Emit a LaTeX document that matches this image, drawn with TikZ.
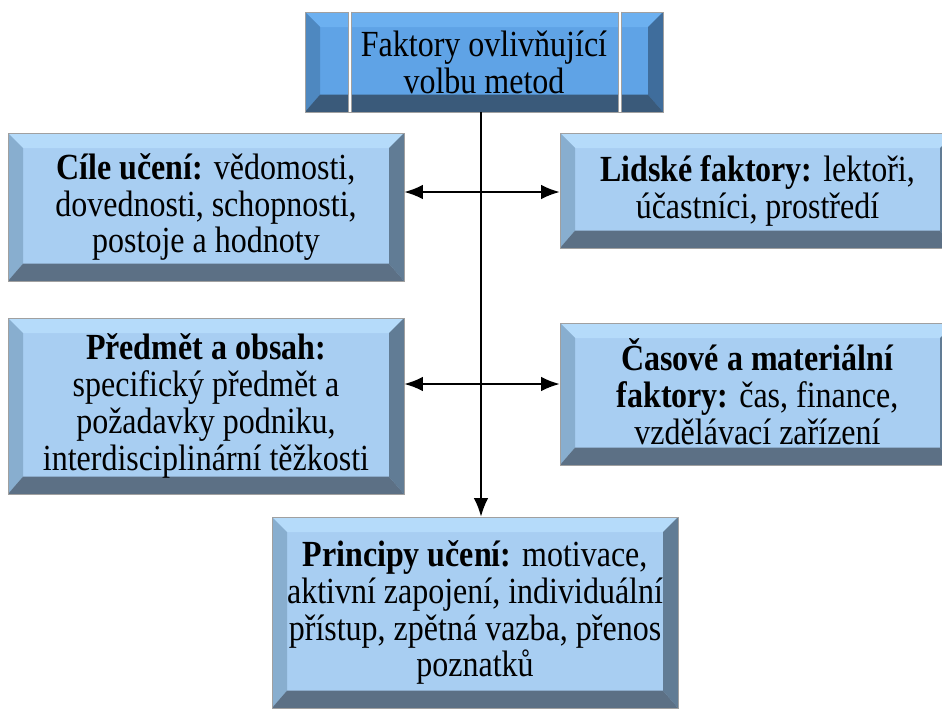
\documentclass[tikz,border=0pt]{standalone}
\usepackage{fontspec}
\setmainfont{Liberation Serif}
\usetikzlibrary{arrows.meta}
\definecolor{lface}{HTML}{A8CEF2}
\definecolor{ltop}{HTML}{B5DBFA}
\definecolor{lleft}{HTML}{88AECF}
\definecolor{lright}{HTML}{617C95}
\definecolor{lbottom}{HTML}{5C7085}
\definecolor{dface}{HTML}{5FA3E6}
\definecolor{dtop}{HTML}{6CB0F0}
\definecolor{dleft}{HTML}{4E88C0}
\definecolor{dright}{HTML}{3F6D9C}
\definecolor{dbottom}{HTML}{3A5A7A}
\definecolor{edgegray}{HTML}{A0A0A0}
\newcommand{\bevelparts}[4]{%
  \fill[#1] (path picture bounding box.north west) -- (path picture bounding box.north east)
     -- ([xshift=-11.25pt,yshift=-11.25pt]path picture bounding box.north east)
     -- ([xshift=11.25pt,yshift=-11.25pt]path picture bounding box.north west) -- cycle;
  \fill[#2] (path picture bounding box.north west) -- (path picture bounding box.south west)
     -- ([xshift=11.25pt,yshift=13pt]path picture bounding box.south west)
     -- ([xshift=11.25pt,yshift=-11.25pt]path picture bounding box.north west) -- cycle;
  \fill[#3] (path picture bounding box.north east) -- (path picture bounding box.south east)
     -- ([xshift=-11.25pt,yshift=13pt]path picture bounding box.south east)
     -- ([xshift=-11.25pt,yshift=-11.25pt]path picture bounding box.north east) -- cycle;
  \fill[#4] (path picture bounding box.south west) -- (path picture bounding box.south east)
     -- ([xshift=-11.25pt,yshift=13pt]path picture bounding box.south east)
     -- ([xshift=11.25pt,yshift=13pt]path picture bounding box.south west) -- cycle;}
% stretched, centred lines of text (lines separated by \cr)
\newcommand{\stxt}[2][0pt]{\raisebox{#1}{\scalebox{1}[1.15]{\vbox{\baselineskip=24.1pt\lineskiplimit=-\maxdimen\halign{\hfil##\hfil\cr#2\crcr}}}}}
\tikzset{
  boxbase/.style={rectangle, inner sep=0pt, align=center, draw=edgegray, line width=0.4pt,
    font=\fontsize{24}{24.1}\selectfont},
  lightbox/.style={boxbase, fill=lface, path picture={\bevelparts{ltop}{lleft}{lright}{lbottom}}},
  darkbox/.style={boxbase, fill=dface, path picture={\bevelparts{dtop}{dleft}{dright}{dbottom}}},
  conn/.style={line width=1.5pt, black},
  tipl/.style={-{Latex[length=14pt,width=11pt]}},
  tiplr/.style={{Latex[length=14pt,width=11pt]}-{Latex[length=14pt,width=11pt]}}
}
\begin{document}
\begin{tikzpicture}[x=0.75pt,y=-0.75pt]
\clip (0,0) rectangle (942,711);
\fill[white] (0,0) rectangle (942,711);

\node[darkbox, minimum width=268.5pt, minimum height=75pt] (top) at (484,62)
  {\stxt{Faktory ovlivňující\cr volbu metod}};
\node[lightbox, minimum width=297pt, minimum height=111pt] (cile) at (206,207)
  {\stxt[3pt]{\textbf{Cíle učení:} vědomosti,\cr dovednosti, schopnosti,\cr postoje a hodnoty}};
\node[lightbox, minimum width=296.25pt, minimum height=86.25pt] (lidske) at (757.5,190.5)
  {\stxt[5.25pt]{\textbf{Lidské faktory:} lektoři,\cr účastníci, prostředí}};
\node[lightbox, minimum width=297pt, minimum height=132pt] (predmet) at (206,406)
  {\stxt{\textbf{Předmět a obsah:}\cr specifický předmět a\cr požadavky podniku,\cr interdisciplinární těžkosti}};
\node[lightbox, minimum width=296.25pt, minimum height=106.5pt] (casove) at (757.5,394)
  {\stxt[3.75pt]{\textbf{Časové a materiální}\cr \textbf{faktory:} čas, finance,\cr vzdělávací zařízení}};
\node[lightbox, minimum width=304.5pt, minimum height=143.25pt] (principy) at (475,612.5)
  {\stxt[2.25pt]{\textbf{Principy učení:} motivace,\cr aktivní zapojení, individuální\cr přístup, zpětná vazba, přenos\cr poznatků}};

% separator lines of the top box
\coordinate (s1) at (350,0);
\coordinate (s2) at (620,0);
\draw[line width=2.4pt, edgegray] (top.north -| s1) -- (top.south -| s1);
\draw[line width=1.3pt, white] (top.north -| s1) -- (top.south -| s1);
\draw[line width=2.4pt, edgegray] (top.north -| s2) -- (top.south -| s2);
\draw[line width=1.3pt, white] (top.north -| s2) -- (top.south -| s2);

% connectors
\coordinate (vx) at (481,0);
\coordinate (h1) at (0,192);
\coordinate (h2) at (0,384);
\draw[conn, tipl] (top.south -| vx) -- (principy.north -| vx);
\draw[conn, tiplr] (cile.east |- h1) -- (lidske.west |- h1);
\draw[conn, tiplr] (predmet.east |- h2) -- (casove.west |- h2);
\end{tikzpicture}
\end{document}
